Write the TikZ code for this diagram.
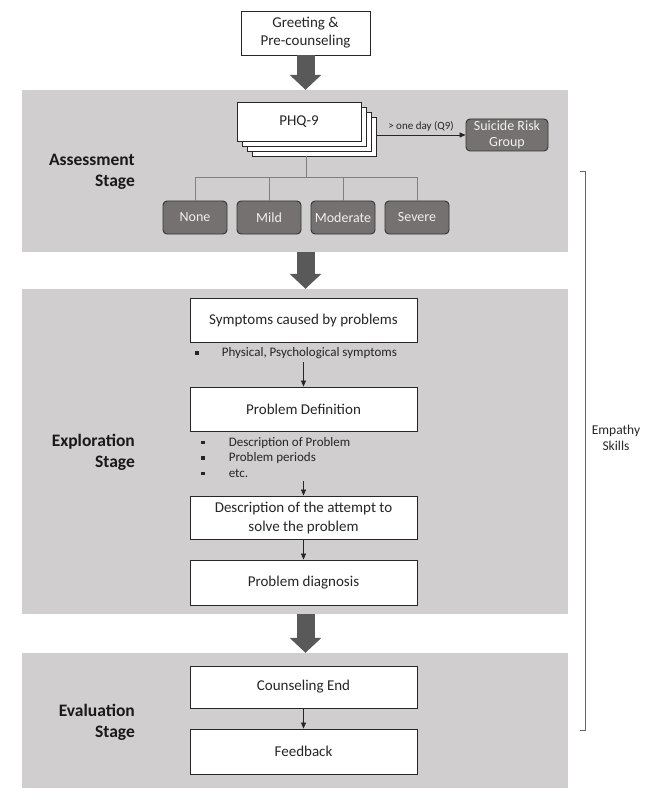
\documentclass[tikz,border=0pt]{standalone}
\usepackage{fontspec}
\setmainfont{Carlito}
\usetikzlibrary{arrows.meta,calc}
\definecolor{panelgray}{RGB}{208,206,206}
\definecolor{levelgray}{RGB}{118,113,113}
\definecolor{arrowgray}{RGB}{89,89,89}
\definecolor{textgray}{RGB}{38,38,38}
\tikzset{
  panel/.style={fill=panelgray, draw=none, minimum width=546pt, inner sep=0pt},
  stepbox/.style={draw=black!85, line width=0.9pt, fill=white, minimum width=227pt,
    text=textgray, font=\fontsize{15}{18}\selectfont, align=center, inner sep=0pt},
  levelbox/.style={draw=black!80, line width=0.9pt, fill=levelgray, rounded corners=4pt,
    minimum width=64pt, minimum height=33pt, text=white!94!black,
    font=\fontsize{14}{16.5}\selectfont, align=center, inner sep=0pt},
  stagelabel/.style={font=\bfseries\fontsize{17.5}{21}\selectfont, align=right,
    anchor=east, inner sep=0pt, text=black!90},
  bigarrow/.style={draw=arrowgray, line width=18pt, -{Triangle[length=15pt,width=31pt]}},
  flowarrow/.style={draw=black!85, line width=0.7pt, -{Triangle[length=6pt,width=5pt]}},
  treeline/.style={draw=black!50, line width=0.8pt},
  bullettext/.style={font=\fontsize{13}{15.5}\selectfont, text=textgray, inner sep=0pt, anchor=west},
}
\newcommand{\bul}{\rule[1.8pt]{3.6pt}{3.6pt}}
\begin{document}
\begin{tikzpicture}[x=1pt,y=-1pt]
  \useasboundingbox (0,0) rectangle (656,802);
  % stage panels
  \node[panel, minimum height=162pt] (assess) at (295,171) {};
  \node[panel, minimum height=325pt] (explore) at (295,451.5) {};
  \node[panel, minimum height=135pt] (evaluate) at (295,720.5) {};
  \node[stagelabel] (assesslabel) at (135,171.5) {Assessment\\Stage};
  \node[stagelabel] (explorelabel) at (135,452.5) {Exploration\\Stage};
  \node[stagelabel] (evaluatelabel) at (135,722.5) {Evaluation\\Stage};

  \node[stepbox, minimum width=129pt, minimum height=44pt] (greet) at (305.5,33) {Greeting \&\\Pre-counseling};

  % assessment
  \foreach \i in {3,2,1}
    \node[stepbox, minimum width=124pt, minimum height=39pt] (phq\i) at (299+5*\i,121.5+5*\i) {};
  \node[stepbox, minimum width=124pt, minimum height=39pt] (phq) at (299,121.5) {PHQ-9};
  \node[levelbox, minimum width=82pt, minimum height=32pt] (suicide) at (507,135) {Suicide Risk\\Group};
  \node[levelbox] (none) at (195,217.5) {None};
  \node[levelbox] (mild) at (269,217.5) {Mild};
  \node[levelbox] (moderate) at (343,217.5) {Moderate};
  \node[levelbox] (severe) at (417,217.5) {Severe};
  \coordinate (split) at (306,177);
  \draw[treeline] (split |- phq3.south) -- (split);
  \foreach \n in {none,mild,moderate,severe}
    \draw[treeline] (split) -| (\n.north);
  \draw[flowarrow] (phq3.east |- suicide.west) -- node[above=3pt, font=\fontsize{11}{13}\selectfont, text=textgray, inner sep=0pt] {> one day (Q9)} (suicide.west);

  % exploration
  \node[stepbox, minimum height=44pt] (symp) at (303.5,320) {Symptoms caused by problems};
  \node[bullettext] (symplist) at (195,353) {\bul\hspace{23pt}Physical, Psychological symptoms};
  \coordinate (symparr) at (303.5,362);
  \node[stepbox, minimum height=44pt] (probdef) at (303.5,409) {Problem Definition};
  \node[bullettext] (deflist) at (201,458.5) {\begin{tabular}{@{}l@{\hspace{24pt}}l@{}}
      \bul & Description of Problem\\
      \bul & Problem periods\\
      \bul & etc.
    \end{tabular}};
  \coordinate (defarr) at (303.5,481);
  \node[stepbox, minimum height=43pt, font=\fontsize{15}{19}\selectfont] (desc) at (303.5,517.5) {Description of the attempt to\\solve the problem};
  \node[stepbox, minimum height=45pt] (diag) at (303.5,582.5) {Problem diagnosis};

  % evaluation
  \node[stepbox, minimum height=42pt] (counsel) at (303.5,687) {Counseling End};
  \node[stepbox, minimum height=45pt] (feedback) at (303.5,751.5) {Feedback};

  \begin{scope}[flowarrow]
    \draw (symparr) -- (probdef);
    \draw (defarr) -- (desc);
    \draw (desc) -- (diag);
    \draw (counsel) -- (feedback);
  \end{scope}

  % stage arrows
  \draw[bigarrow] (greet.south) -- (greet.south |- assess.north);
  \draw[bigarrow] (greet.south |- assess.south) -- (greet.south |- explore.north);
  \draw[bigarrow] (greet.south |- explore.south) -- (greet.south |- evaluate.north);

  % empathy bracket
  \draw[draw=black!60, line width=0.9pt] (580,171) -- (585,171) -- (585,730) -- (580,730);
  \node[font=\fontsize{13.5}{16}\selectfont, align=center, text=textgray] (empathy) at (616,438) {Empathy\\Skills};
\end{tikzpicture}
\end{document}
